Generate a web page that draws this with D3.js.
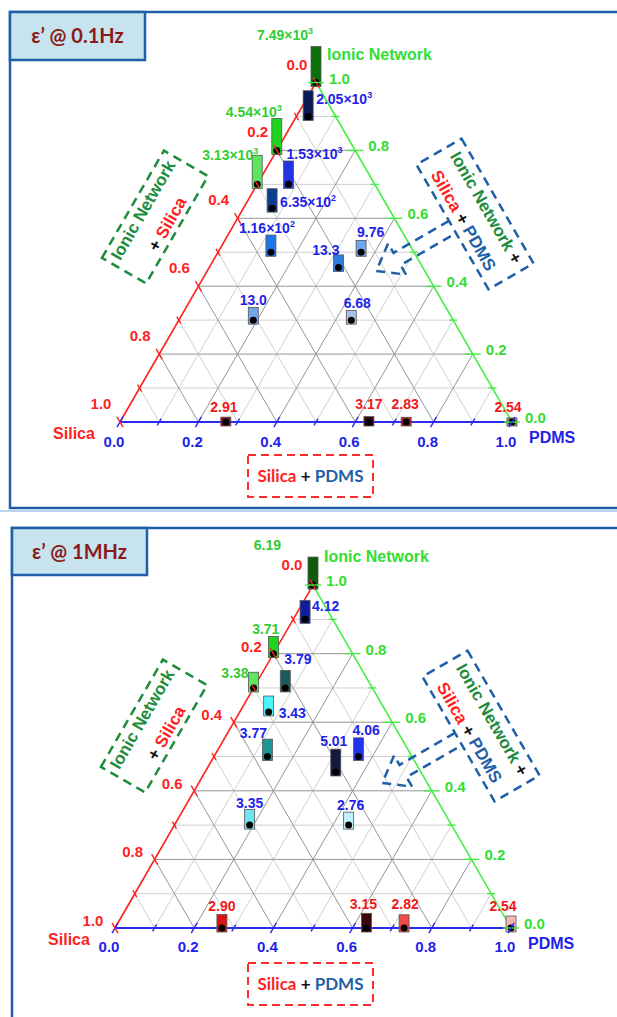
<!DOCTYPE html>
<html>
<head>
<meta charset="utf-8">
<script src="https://cdn.jsdelivr.net/npm/d3@7"></script>
<style>
  html, body { margin: 0; padding: 0; background: #fff; }
  svg { display: block; font-family: 'Liberation Sans', Arial, sans-serif; font-weight: bold; }
</style>
</head>
<body>
<div id="chart"></div>
<script>
// sample compositions (fractions), same 15 samples in both panels
const pdmsFrac  = [0, 0, 0, 0.03, 0.08, 0.073, 0.135, 0.33, 0.365, 0.19, 0.44, 0.27, 0.635, 0.73, 1.0];
const ionicFrac = [1.0, 0.8, 0.7, 0.9, 0.7, 0.63, 0.5, 0.455, 0.5, 0.3, 0.3, 0, 0, 0, 0];

// dielectric constant at 0.1 Hz and at 1 MHz
const epsAt01Hz = [7490, 4540, 3130, 2050, 1530, 635, 116, 13.3, 9.76, 13.0, 6.68, 2.91, 3.17, 2.83, 2.54];
const epsAt1MHz = [6.19, 3.71, 3.38, 4.12, 3.79, 3.43, 3.77, 5.01, 4.06, 3.35, 2.76, 2.90, 3.15, 2.82, 2.54];

const majorTicks = [0, 0.2, 0.4, 0.6, 0.8, 1.0];
const minorTicks = [0.1, 0.3, 0.5, 0.7, 0.9];
const tickLabels = ['0.0', '0.2', '0.4', '0.6', '0.8', '1.0'];
const panelTitles = ['ε’ @ 0.1Hz', 'ε’ @ 1MHz'];

// label placement next to each marker: [anchor, dx, dy] from the dot
const labelSpots01Hz = [
  ['end', -3, -43], ['end', 5, -33], ['end', 1, -24], ['start', 8, -12], ['start', -2, -25],
  ['start', 8, -1], ['middle', -4, -19], ['end', 1, -13], ['start', -4, -15], ['middle', 0, -15],
  ['middle', 6, -12], ['middle', -2, -10], ['middle', 0, -13], ['middle', -1, -13], ['middle', -4, -10]
];
const labelSpots1MHz = [
  ['end', -32, -35], ['end', 6, -20], ['end', -5, -10], ['start', 7, -8], ['start', -1, -24],
  ['start', 10, 6], ['middle', -14, -19], ['middle', -2, -26], ['start', -6, -22], ['middle', 0, -17],
  ['middle', 2, -15], ['middle', 0, -17], ['middle', -3, -19], ['middle', 1, -19], ['middle', -8, -17]
];

const RED = '#ff1f1f', GREEN = '#33dd33', BLUE = '#1f1fe8';
const DKGREEN = '#1e8c3c', STEEL = '#1f5fa8';

// colour ramps per group, ordered by rank of the value inside the group
const palettes01Hz = {
  green: ['#5ee65e', '#1ed41e', '#0a700a'],
  blue: ['#a6c2e6', '#6ea8ee', '#72a6ea', '#2c7fe0', '#1c78ea', '#0c3d8e', '#2235e0', '#0a1a55'],
  red: ['#8e9460', '#b82222', '#8c1414', '#4a0808']
};
const palettes1MHz = {
  green: ['#5ee65e', '#1ed41e', '#0a5c0a'],
  blue: ['#c2f2fb', '#6ee6ee', '#4ff2fc', '#1a9898', '#1d5b5b', '#1f35ee', '#0f1c9c', '#15183f'],
  red: ['#f2b6b6', '#f04a4a', '#dc1212', '#3c0606']
};

const width = 617, height = 1017;

const svg = d3.select('#chart').append('svg')
  .attr('width', width)
  .attr('height', height);

const panels = [
  {
    x0: 120, y0: 422, side: 392, values: epsAt01Hz, title: panelTitles[0],
    heightScale: d3.scaleLog().domain([2.5, 10, 100, 1000, 7500]).range([8, 16, 21, 24, 40]),
    palettes: palettes01Hz, spots: labelSpots01Hz,
    redOff: [-19, -13], redTopOff: [-19, -13], blueDy: 25,
    frame: { x: 10, y: 12, h: 496 }, titleBox: { w: 135, h: 48 },
    annot: { left: [0, 0], right: [0, 0], bottom: [0, 0] }
  },
  {
    x0: 115, y0: 928, side: 396, values: epsAt1MHz, title: panelTitles[1],
    heightScale: d3.scaleLinear().domain([2.54, 6.19]).range([16, 32]),
    palettes: palettes1MHz, spots: labelSpots1MHz,
    redOff: [-22, -2], redTopOff: [-21, -15], blueDy: 24,
    frame: { x: 12, y: 528, h: 520 }, titleBox: { w: 135, h: 47 },
    annot: { left: [-1, 509], right: [6, 512], bottom: [0, 508] }
  }
];

// light separator between the two slides
svg.append('line')
  .attr('x1', 0).attr('x2', width).attr('y1', 511).attr('y2', 511)
  .attr('stroke', '#b4d6f2').attr('stroke-width', 2);

panels.forEach(drawPanel);

function groupOf(p, n) {
  if (n === 0) return 'red';
  if (p === 0) return 'green';
  return 'blue';
}

function fmtParts(v) {
  if (v >= 100) {
    const e = Math.floor(Math.log10(v));
    return [(v / Math.pow(10, e)).toFixed(2) + '×10', String(e)];
  }
  return [v < 10 ? v.toFixed(2) : v.toFixed(1), null];
}

function drawPanel(cfg) {
  const { x0, y0, side } = cfg;
  const g = svg.append('g');

  // frame + title
  g.append('rect')
    .attr('x', cfg.frame.x).attr('y', cfg.frame.y)
    .attr('width', 700).attr('height', cfg.frame.h)
    .attr('fill', 'none').attr('stroke', STEEL).attr('stroke-width', 2.5);
  g.append('rect')
    .attr('x', cfg.frame.x).attr('y', cfg.frame.y)
    .attr('width', cfg.titleBox.w).attr('height', cfg.titleBox.h)
    .attr('fill', '#c6e3ee').attr('stroke', STEEL).attr('stroke-width', 2.5);
  g.append('text')
    .attr('x', cfg.frame.x + cfg.titleBox.w / 2)
    .attr('y', cfg.frame.y + cfg.titleBox.h / 2 + 7)
    .attr('text-anchor', 'middle')
    .style('font-family', "Lato, 'Open Sans', sans-serif")
    .attr('font-size', 20).attr('fill', '#8b1a1a')
    .text(cfg.title);

  // ternary projection: p = PDMS, n = ionic network, silica = 1 - p - n
  const xs = d3.scaleLinear().domain([0, 1]).range([x0, x0 + side]);
  const ys = d3.scaleLinear().domain([0, 1]).range([y0, y0 - side * Math.sqrt(3) / 2]);
  const proj = (p, n) => [xs(p + n / 2), ys(n)];

  // grid
  const gridVals = [...minorTicks, ...majorTicks.slice(1, -1)];
  const gridLines = [];
  gridVals.forEach(v => {
    const major = majorTicks.includes(v);
    gridLines.push({ a: proj(0, v), b: proj(1 - v, v), major });
    gridLines.push({ a: proj(v, 0), b: proj(v, 1 - v), major });
    gridLines.push({ a: proj(1 - v, 0), b: proj(0, 1 - v), major });
  });
  g.append('g').selectAll('line')
    .data(gridLines.sort((a, b) => a.major - b.major))
    .join('line')
    .attr('x1', d => d.a[0]).attr('y1', d => d.a[1])
    .attr('x2', d => d.b[0]).attr('y2', d => d.b[1])
    .attr('stroke', d => d.major ? '#959595' : '#d0d0d0')
    .attr('stroke-width', 1);

  // axis edges
  const A = proj(0, 0), B = proj(1, 0), C = proj(0, 1);
  const edge = (p1, p2, color, w) => g.append('line')
    .attr('x1', p1[0]).attr('y1', p1[1]).attr('x2', p2[0]).attr('y2', p2[1])
    .attr('stroke', color).attr('stroke-width', w);
  edge(A, C, RED, 1.6);
  edge(C, B, '#44ee44', 1.6);
  edge(A, B, '#2a2af0', 2);

  // markers
  const pts = pdmsFrac.map((p, i) => {
    const n = ionicFrac[i];
    const [x, y] = proj(p, n);
    return { i, p, n, x, y, v: cfg.values[i], group: groupOf(p, n), spot: cfg.spots[i] };
  });
  const colorScales = {};
  Object.keys(cfg.palettes).forEach(k => {
    const sorted = pts.filter(d => d.group === k).map(d => d.v).sort((a, b) => a - b);
    colorScales[k] = d3.scaleOrdinal().domain(sorted).range(cfg.palettes[k]);
  });

  const barW = 10;
  g.append('g').selectAll('rect')
    .data(pts)
    .join('rect')
    .attr('x', d => d.x - barW / 2)
    .attr('y', d => d.y + 4 - cfg.heightScale(d.v))
    .attr('width', barW)
    .attr('height', d => cfg.heightScale(d.v))
    .attr('fill', d => colorScales[d.group](d.v))
    .attr('stroke', '#555').attr('stroke-width', 0.8);

  g.append('g').selectAll('circle')
    .data(pts)
    .join('circle')
    .attr('cx', d => d.x).attr('cy', d => d.y).attr('r', 3.5)
    .attr('fill', '#000');

  // ticks
  const tickData = [];
  [...majorTicks, ...minorTicks].forEach(v => {
    const major = majorTicks.includes(v);
    const L = major ? 6 : 4;
    tickData.push({ c: proj(0, 1 - v), d: [0.5, 0.866], L, color: RED });
    tickData.push({ c: proj(1 - v, v), d: [1, 0], L: major ? 8 : 4, color: '#44ee44' });
    tickData.push({ c: proj(v, 0), d: [0.5, -0.866], L, color: '#2a2af0' });
  });
  g.append('g').selectAll('line')
    .data(tickData)
    .join('line')
    .attr('x1', t => t.c[0] - t.d[0] * t.L).attr('y1', t => t.c[1] - t.d[1] * t.L)
    .attr('x2', t => t.c[0] + t.d[0] * t.L).attr('y2', t => t.c[1] + t.d[1] * t.L)
    .attr('stroke', t => t.color).attr('stroke-width', 1.4);

  // tick labels
  const tl = g.append('g').attr('font-size', 15);
  majorTicks.forEach((v, k) => {
    const ls = proj(0, 1 - v);
    const off = v === 0 ? cfg.redTopOff : cfg.redOff;
    tl.append('text')
      .attr('x', ls[0] + off[0]).attr('y', ls[1] + off[1])
      .attr('text-anchor', 'middle').attr('fill', RED)
      .text(tickLabels[k]);
    const rs = proj(1 - v, v);
    tl.append('text')
      .attr('x', rs[0] + 13).attr('y', rs[1] + 1)
      .attr('fill', GREEN)
      .text(tickLabels[k]);
    const bs = proj(v, 0);
    tl.append('text')
      .attr('x', bs[0] - 6).attr('y', y0 + cfg.blueDy)
      .attr('text-anchor', 'middle').attr('fill', BLUE)
      .text(tickLabels[k]);
  });

  // vertex names
  const vn = g.append('g').attr('font-size', 16);
  vn.append('text').attr('x', A[0] - 46).attr('y', A[1] + 17)
    .attr('text-anchor', 'middle').attr('fill', RED).text('Silica');
  vn.append('text').attr('x', B[0] + 17).attr('y', B[1] + 21)
    .attr('fill', BLUE).text('PDMS');
  vn.append('text').attr('x', C[0] + 11).attr('y', C[1] - 23)
    .attr('fill', GREEN).text('Ionic Network');

  // value labels
  const labelColor = { green: '#3c3', blue: BLUE, red: '#f01818' };
  const vl = g.append('g').attr('font-size', 14).selectAll('text')
    .data(pts)
    .join('text')
    .attr('x', d => d.x + d.spot[1])
    .attr('y', d => d.y + d.spot[2])
    .attr('text-anchor', d => d.spot[0])
    .attr('fill', d => labelColor[d.group]);
  vl.each(function (d) {
    const [main, sup] = fmtParts(d.v);
    const t = d3.select(this);
    t.append('tspan').text(main);
    if (sup) t.append('tspan').attr('font-size', 9).attr('dy', -6).text(sup);
  });

  // annotation boxes
  const drawRotBox = (cx, cy, angle, w, h, color, lines) => {
    const bg = g.append('g').attr('transform', `translate(${cx},${cy}) rotate(${angle})`);
    bg.append('rect')
      .attr('x', -w / 2).attr('y', -h / 2).attr('width', w).attr('height', h)
      .attr('fill', 'none').attr('stroke', color)
      .attr('stroke-width', 2.5).attr('stroke-dasharray', '9,6');
    lines.forEach(line => {
      const t = bg.append('text').attr('x', 0).attr('y', line.y)
        .attr('text-anchor', 'middle').attr('font-size', 17);
      line.segs.forEach(s => t.append('tspan').attr('fill', s[1]).text(s[0]));
    });
    return bg;
  };

  const la = cfg.annot.left;
  drawRotBox(155 + la[0], 217 + la[1], -60, 124, 51, DKGREEN, [
    { y: -8, segs: [['Ionic Network', DKGREEN]] },
    { y: 20, segs: [['+ ', '#111'], ['Silica', RED]] }
  ]);

  const ra = cfg.annot.right;
  const rb = drawRotBox(475 + ra[0], 214 + ra[1], 60, 144, 52, STEEL, [
    { y: -7, segs: [['Ionic Network', DKGREEN], [' +', '#111']] },
    { y: 19, segs: [['Silica', RED], [' + ', '#111'], ['PDMS', STEEL]] }
  ]);
  // dashed arrow pointing into the triangle
  rb.append('path')
    .attr('d', 'M-7,26 L-7,90 L-18,90 L0,114 L18,90 L7,90 L7,26')
    .attr('fill', 'none').attr('stroke', STEEL)
    .attr('stroke-width', 2.5).attr('stroke-dasharray', '9,6');

  const ba = cfg.annot.bottom;
  g.append('rect')
    .attr('x', 248 + ba[0]).attr('y', 455 + ba[1]).attr('width', 125).attr('height', 42)
    .attr('fill', 'none').attr('stroke', '#ff2a2a')
    .attr('stroke-width', 2).attr('stroke-dasharray', '8,5');
  const bt = g.append('text')
    .attr('x', 310.5 + ba[0]).attr('y', 482 + ba[1])
    .attr('text-anchor', 'middle').attr('font-size', 17)
    .style('font-family', "Lato, 'Open Sans', sans-serif");
  [['Silica', RED], [' + ', '#111'], ['PDMS', STEEL]]
    .forEach(s => bt.append('tspan').attr('fill', s[1]).text(s[0]));
}
</script>
</body>
</html>
